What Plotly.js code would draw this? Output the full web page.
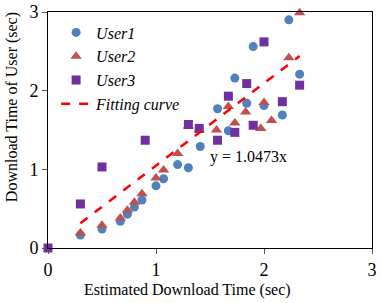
<!DOCTYPE html>
<html><head><meta charset="utf-8">
<script src="https://cdn.plot.ly/plotly-3.0.1.min.js"></script>
<style>html,body{margin:0;padding:0;background:#fff}#c{width:382px;height:303px}</style>
</head><body><div id="c"></div>
<script>
const user1X = [0.30, 0.50, 0.67, 0.735, 0.80, 0.87, 1.00, 1.07, 1.20, 1.30, 1.41, 1.57, 1.67, 1.73, 1.84, 1.90, 2.00, 2.17, 2.23, 2.33];
const user1Y = [0.165, 0.24, 0.34, 0.43, 0.52, 0.61, 0.79, 0.88, 1.06, 1.02, 1.29, 1.77, 1.49, 2.16, 1.84, 2.56, 1.81, 1.69, 2.90, 2.21];
const user2X = [0.30, 0.50, 0.67, 0.735, 0.80, 0.87, 1.00, 1.07, 1.20, 1.30, 1.40, 1.56, 1.67, 1.73, 1.83, 1.97, 2.00, 2.07, 2.23, 2.33];
const user2Y = [0.19, 0.29, 0.38, 0.48, 0.58, 0.69, 0.89, 0.99, 1.20, 1.55, 1.50, 1.50, 1.80, 1.59, 1.73, 1.52, 1.85, 1.62, 2.42, 2.99];
const user3X = [0.00, 0.30, 0.50, 0.90, 1.30, 1.40, 1.57, 1.67, 1.73, 1.84, 1.90, 2.00, 2.17, 2.33];
const user3Y = [0.00, 0.56, 1.03, 1.37, 1.57, 1.52, 1.37, 1.93, 1.47, 2.09, 1.56, 2.62, 1.86, 2.07];
const fitSlope = 1.0473;
const fitX = [0.30, 2.33];
const fitY = fitX.map(x => fitSlope * x);
const tickVals = [0, 1, 2, 3];
const equationText = 'y = 1.0473x';
const xTitle = 'Estimated Download Time (sec)';
const yTitle = 'Download Time of User (sec)';

const F = 'Liberation Serif';
const traces = [
  {x: user1X, y: user1Y, type: 'scatter', mode: 'markers', name: 'User1', cliponaxis: false,
   marker: {symbol: 'circle', size: 9, color: '#4F81BD'}},
  {x: user2X, y: user2Y, type: 'scatter', mode: 'markers', name: 'User2', cliponaxis: false,
   marker: {symbol: 'triangle-up', size: 10, color: '#C0504D'}},
  {x: user3X, y: user3Y, type: 'scatter', mode: 'markers', name: 'User3', cliponaxis: false,
   marker: {symbol: 'square', size: 9, color: '#7030A0'}},
  {x: fitX, y: fitY, type: 'scatter', mode: 'lines', name: 'Fitting curve',
   line: {color: '#FF0000', width: 2.5, dash: 'dash'}}
];
const axisCommon = {
  range: [0, 3], tickvals: tickVals, ticktext: tickVals.map(String),
  showgrid: false, zeroline: false, showline: true, linecolor: '#000', linewidth: 1,
  ticks: 'outside', ticklen: 5, tickcolor: '#555', mirror: true,
  tickfont: {family: F, size: 18, color: '#000'}
};
const layout = {
  width: 382, height: 303,
  margin: {l: 48, r: 10, t: 12, b: 55},
  paper_bgcolor: '#fff', plot_bgcolor: '#fff',
  font: {family: F, color: '#000'},
  showlegend: true,
  legend: {x: 0.025, y: 0.985, xanchor: 'left', yanchor: 'top', bgcolor: 'rgba(0,0,0,0)',
           itemwidth: 30, tracegroupgap: 0,
           font: {family: F, size: 16, color: '#000', style: 'italic'}},
  xaxis: Object.assign({}, axisCommon),
  yaxis: Object.assign({}, axisCommon),
  annotations: [
    {x: 1.48, y: 1.16, xref: 'x', yref: 'y', text: equationText, showarrow: false,
     xanchor: 'left', yanchor: 'middle', font: {family: F, size: 16, color: '#000'}},
    {x: 0.432, y: -0.178, xref: 'paper', yref: 'paper', text: xTitle, showarrow: false,
     xanchor: 'center', yanchor: 'middle', font: {family: F, size: 16, color: '#000'}},
    {x: -0.111, y: 0.597, xref: 'paper', yref: 'paper', text: yTitle, showarrow: false, textangle: -90,
     xanchor: 'center', yanchor: 'middle', font: {family: F, size: 16, color: '#000'}}
  ]
};
Plotly.newPlot('c', traces, layout, {displayModeBar: false, staticPlot: true});
</script></body></html>
